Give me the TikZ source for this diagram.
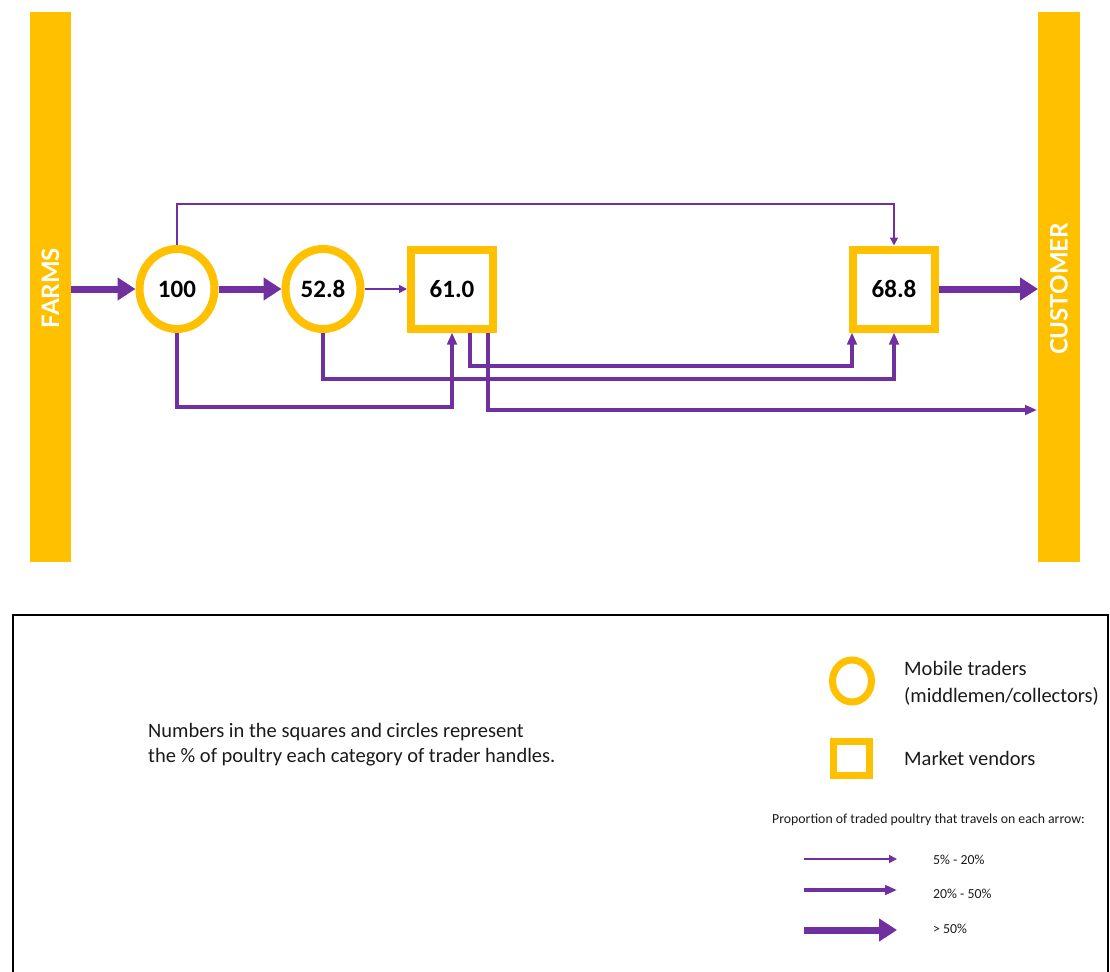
\documentclass[tikz,border=0pt]{standalone}
\usepackage{fontspec}
\setmainfont{Carlito}
\newfontfamily\latofont{Lato}
\usetikzlibrary{arrows.meta,shapes.geometric}
\definecolor{ylw}{HTML}{FFC000}
\definecolor{prp}{HTML}{7030A0}
\definecolor{txt}{HTML}{1A1A1A}
\tikzset{
  bar/.style={fill=ylw,draw=none},
  bartext/.style={text=white,font=\latofont\bfseries\fontsize{24}{24}\selectfont,rotate=90,inner sep=0},
  trader/.style={ellipse,draw=ylw,line width=8pt,fill=white,minimum width=75pt,minimum height=80pt,inner sep=0,font=\bfseries\fontsize{25}{25}\selectfont},
  vendor/.style={rectangle,draw=ylw,line width=8pt,fill=white,minimum width=82pt,minimum height=79pt,inner sep=0,font=\bfseries\fontsize{25}{25}\selectfont},
  thinarr/.style={draw=prp,line width=1.6pt,-{Triangle[length=8pt,width=8pt]}},
  medarr/.style={draw=prp,line width=3.2pt,-{Triangle[length=12pt,width=9.5pt]}},
  thickarr/.style={draw=prp,line width=7pt,-{Triangle[length=18pt,width=22pt]}},
  legtext/.style={anchor=base west,inner sep=0,text=txt,font=\fontsize{20.5}{20.5}\selectfont},
  smalltext/.style={anchor=base west,inner sep=0,text=txt,font=\fontsize{13.8}{13.8}\selectfont},
}
\begin{document}
\begin{tikzpicture}[x=1pt,y=-1pt]
\useasboundingbox (0,0) rectangle (1110,971);
% side bars
\fill[bar] (30,12) rectangle (71,562);
\fill[bar] (1038,12) rectangle (1080,562);
\node[bartext] (farms) at (50.5,288) {FARMS};
\node[bartext] (customer) at (1059,289) {CUSTOMER};
\coordinate (farmsR) at (71,289);
\coordinate (custL) at (1038,289);
\coordinate (custL2) at (1037,410);
% levels
\coordinate (ytop) at (0,204);
\coordinate (y366) at (0,366);
\coordinate (y379) at (0,379);
\coordinate (y407) at (0,407);
\coordinate (y410) at (0,410);
% nodes
\node[trader] (c100) at (177,289) {100};
\node[trader] (c528) at (323,289) {52.8};
\node[vendor] (s61) at (452,289) {61.0};
\node[vendor] (s688) at (894,289) {68.8};
\coordinate (s61b) at ([xshift=18pt]s61.south);
\coordinate (s61c) at ([xshift=36pt]s61.south);
\coordinate (s688a) at ([xshift=3pt]s688.south west);
% flows
\draw[thickarr] (farmsR) -- (c100.west);
\draw[thickarr] (c100.east) -- (c528.west);
\draw[thinarr] (c528.east) -- (s61.west);
\draw[thickarr] (s688.east) -- (custL);
\draw[thinarr] (c100.north) -- (c100.north |- ytop) -| (s688.north);
\draw[medarr] (c100.south) -- (c100.south |- y407) -| (s61.south);
\draw[medarr] (c528.south) -- (c528.south |- y379) -| (s688.south);
\draw[medarr] (s61b) -- (s61b |- y366) -| (s688a);
\draw[medarr] (s61c) -- (s61c |- y410) -- (custL2);
% legend box
\draw[black,line width=2.5pt] (13,615) rectangle (1108,985);
\node[legtext] (desc1) at (148,737) {Numbers in the squares and circles represent};
\node[legtext] (desc2) at (148,762) {the \% of poultry each category of trader handles.};
\node[ellipse,draw=ylw,line width=7pt,minimum width=39pt,minimum height=42pt,inner sep=0] (legc) at (852,681) {};
\node[legtext] (mob1) at (904,675) {Mobile traders};
\node[legtext] (mob2) at (904,702) {(middlemen/collectors)};
\node[rectangle,draw=ylw,line width=7pt,minimum width=36pt,minimum height=34pt,inner sep=0] (legs) at (851.5,758.5) {};
\node[legtext] (mkt) at (904,765) {Market vendors};
\node[smalltext] (prop) at (772,823) {Proportion of traded poultry that travels on each arrow:};
\coordinate (l1a) at (804,859); \coordinate (l1b) at (897,859);
\coordinate (l2a) at (804,890); \coordinate (l2b) at (897,890);
\coordinate (l3a) at (804,930); \coordinate (l3b) at (897,930);
\draw[thinarr] (l1a) -- (l1b);
\draw[medarr] (l2a) -- (l2b);
\draw[thickarr] (l3a) -- (l3b);
\node[smalltext] (lab1) at (933,864) {5\% - 20\%};
\node[smalltext] (lab2) at (933,898) {20\% - 50\%};
\node[smalltext] (lab3) at (933,933) {> 50\%};
\end{tikzpicture}
\end{document}
